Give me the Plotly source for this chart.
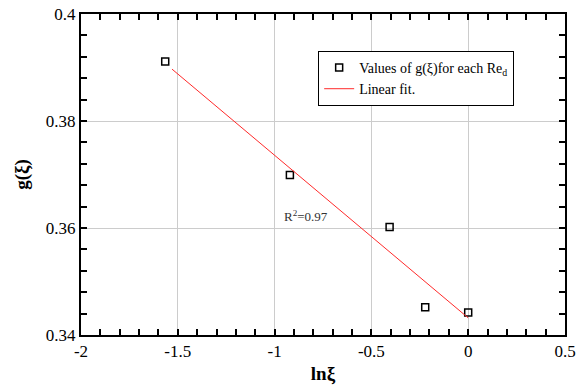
import plotly.graph_objects as go

ln_xi = [-1.565, -0.921, -0.406, -0.222, 0.0]
g_xi = [0.3911, 0.3699, 0.3602, 0.3452, 0.3442]
fit_x = [-1.53, 0.0]
fit_y = [0.3897, 0.3432]

x_ticks = [-2, -1.5, -1, -0.5, 0, 0.5]
x_labels = ["-2", "-1.5", "-1", "-0.5", "0", "0.5"]
y_ticks = [0.34, 0.36, 0.38, 0.4]
y_labels = ["0.34", "0.36", "0.38", "0.4"]

FONT = "Liberation Serif"

fig = go.Figure()
fig.add_trace(go.Scatter(
    x=ln_xi, y=g_xi, mode="markers",
    name="Values of g(ξ)for each Re<sub>d</sub>",
    marker=dict(symbol="square-open", size=7, color="black", line=dict(width=1.5, color="black")),
))
fig.add_trace(go.Scatter(
    x=fit_x, y=fit_y, mode="lines", name="Linear fit.",
    line=dict(color="#ff2a2a", width=1),
))

fig.add_annotation(x=-0.96, y=0.3622, xanchor="left", yanchor="middle",
                   text="R<sup>2</sup>=0.97", showarrow=False,
                   font=dict(family=FONT, size=13, color="#333333"))

axis_common = dict(
    showline=True, linecolor="black", linewidth=2, mirror=True,
    ticks="inside", ticklen=6, tickwidth=1.5, tickcolor="black",
    showgrid=True, gridcolor="#cccccc", gridwidth=1, zeroline=False,
    tickfont=dict(family=FONT, size=17, color="black"),
    automargin=False,
)

fig.update_xaxes(range=[-2, 0.5], tickvals=x_ticks, ticktext=x_labels,
                 minor=dict(ticks="inside", dtick=0.1, tick0=-2, ticklen=6, tickwidth=1.5, tickcolor="black", showgrid=False),
                 title=dict(text="<b>lnξ</b>", font=dict(family=FONT, size=19, color="black"), standoff=6),
                 **axis_common)
fig.update_yaxes(range=[0.34, 0.4], tickvals=y_ticks, ticktext=y_labels,
                 minor=dict(ticks="inside", dtick=0.004, tick0=0.34, ticklen=6, tickwidth=1.5, tickcolor="black", showgrid=False),
                 title=dict(text="<b>g(ξ)</b>", font=dict(family=FONT, size=19, color="black"), standoff=12),
                 **axis_common)

# mirrored tick marks (major + minor) on top and right
fig.update_layout(
    xaxis2=dict(overlaying="x", side="top", range=[-2, 0.5], tickvals=x_ticks, showticklabels=False,
                ticks="inside", ticklen=6, tickwidth=1.5, tickcolor="black", showgrid=False, zeroline=False,
                automargin=False,
                minor=dict(ticks="inside", dtick=0.1, tick0=-2, ticklen=6, tickwidth=1.5, tickcolor="black", showgrid=False)),
    yaxis2=dict(overlaying="y", side="right", range=[0.34, 0.4], tickvals=y_ticks, showticklabels=False,
                ticks="inside", ticklen=6, tickwidth=1.5, tickcolor="black", showgrid=False, zeroline=False,
                automargin=False,
                minor=dict(ticks="inside", dtick=0.004, tick0=0.34, ticklen=6, tickwidth=1.5, tickcolor="black", showgrid=False)),
)
fig.add_trace(go.Scatter(x=[-3], y=[0], xaxis="x2", yaxis="y2", mode="markers",
                         showlegend=False, hoverinfo="skip"))

fig.update_layout(
    width=584, height=387,
    margin=dict(l=81, r=19, t=14, b=52),
    plot_bgcolor="white", paper_bgcolor="white",
    font=dict(family=FONT, color="black"),
    legend=dict(x=0.49, y=0.885, xanchor="left", yanchor="top",
                bgcolor="white", bordercolor="black", borderwidth=1,
                font=dict(family=FONT, size=14, color="black"),
                tracegroupgap=0, itemwidth=30),
    showlegend=True,
)

fig.write_html("out.html")
